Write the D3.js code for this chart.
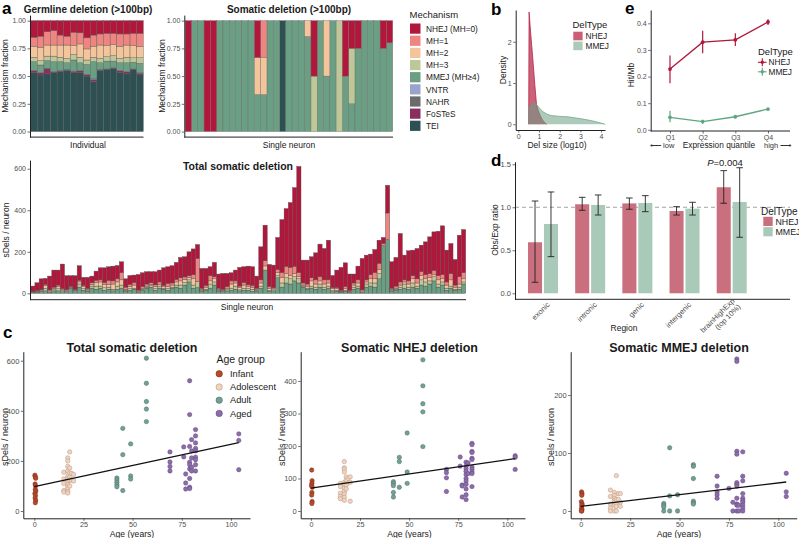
<!DOCTYPE html>
<html><head><meta charset="utf-8">
<script src="https://cdn.jsdelivr.net/npm/d3@7/dist/d3.min.js"></script>
<style>body{margin:0;background:#fff} svg{display:block}</style>
</head><body>
<svg id="chart" width="799" height="538"></svg>
<script>
// ---------------- DATA ----------------
const mechLabels = ["NHEJ (MH=0)","MH=1","MH=2","MH=3","MMEJ (MH\u22654)","VNTR","NAHR","FoSTeS","TEI"];
const mechKeys   = ["NHEJ","MH1","MH2","MH3","MMEJ","VNTR","NAHR","FoSTeS","TEI"];
const mechColors = ["#B2173B","#EF8580","#F4C49B","#BEC797","#6A9F83","#99A3CC","#6B6B6B","#8A2D5F","#2D5052"];

// Germline fractions, 17 individuals
const gNHEJ   = [.15,.14,.10,.09,.13,.14,.105,.11,.155,.13,.12,.115,.115,.12,.12,.115,.115];
const gMH1    = [.08,.10,.12,.13,.09,.08,.12,.10,.10,.10,.10,.11,.10,.11,.10,.11,.12];
const gMH2    = [.10,.12,.10,.10,.11,.12,.08,.12,.10,.10,.12,.10,.10,.11,.11,.11,.10];
const gMH3    = [.04,.04,.04,.05,.04,.04,.05,.05,.04,.04,.04,.04,.05,.04,.05,.04,.05];
const gMMEJ   = [.08,.07,.07,.09,.08,.06,.10,.07,.09,.15,.06,.07,.06,.07,.08,.06,.08];
const gVNTR   = [0,0,0,0,0,0,0,0,0,.01,0,0,0,0,0,0,.01];
const gNAHR   = [0,0,0,0,0,0,.005,0,0,0,0,0,0,0,0,0,.005];
const gFoSTeS = [.02,.02,.05,.01,.01,.01,.01,.02,.015,.02,.01,.005,.005,.02,.02,.005,.01];
const gTEI    = [.53,.51,.52,.53,.54,.55,.53,.53,.50,.45,.55,.56,.57,.53,.52,.56,.51];

// Somatic (>100bp) fractions, 33 single neurons
const sNHEJ = [1,0,0,1,1,0,0,0,0,0,0,.333,0,0,0,0,0,0,0,0,.5,0,0,0,0,.5,.25,.25,0,0,0,.25,.2];
const sMH1  = [0,0,0,0,0,0,0,0,0,0,0,0,.333,0,0,0,0,0,0,0,0,0,0,0,0,0,0,0,0,0,0,0,0];
const sMH2  = [0,0,0,0,0,0,0,0,0,0,0,.333,.333,0,0,0,0,0,0,.143,0,0,.5,0,0,0,0,0,0,0,0,0,0];
const sMH3  = [0,0,0,0,0,0,0,0,0,0,0,0,0,0,0,0,0,0,0,0,.5,0,0,0,1,0,.5,0,0,0,0,0,0];
const sMMEJ = [0,1,1,0,0,1,1,1,1,1,1,.334,.334,1,1,0,1,1,1,.857,0,1,.5,1,0,.5,.25,.75,1,1,1,.75,.8];
const sTEI  = [0,0,0,0,0,0,0,0,0,0,0,0,0,0,0,1,0,0,0,0,0,0,0,0,0,0,0,0,0,0,0,0,0];

// Total somatic deletions per neuron (counts), 103 neurons
const nMMEJ = [5,5,10,12,5,12,12,8,8,25,8,30,15,10,25,20,25,15,20,12,20,25,10,15,20,
  5,15,25,30,15,25,20,15,25,30,25,40,55,25,28,10,15,25,40,10,8,12,15,20,12,15,
  15,10,10,25,112,10,12,75,30,50,45,60,50,30,20,25,20,30,20,25,8,10,5,10,5,20,25,5,30,35,30,70,230,259,10,15,20,25,20,30,25,40,35,45,60,30,40,15,25,15,20,45];
const nMH3 = [0,2,3,12,3,6,10,5,2,2,4,15,8,4,10,15,10,12,10,8,15,15,5,8,5,
  3,5,5,8,8,10,5,8,5,10,15,12,10,15,30,5,5,20,15,5,3,5,10,15,5,10,
  8,10,5,10,0,5,5,10,20,25,25,20,20,5,5,10,10,15,10,10,5,5,2,5,2,10,10,2,15,15,20,25,0,0,5,5,10,20,10,20,10,25,20,15,20,15,15,10,10,5,10,10];
const nMH2 = [2,3,3,14,5,6,10,5,4,3,4,10,10,5,8,18,20,15,12,25,20,25,5,10,15,
  3,5,5,5,10,8,8,10,10,15,20,15,10,30,0,5,10,15,15,5,4,8,20,15,10,15,
  10,10,5,15,20,10,5,15,25,20,15,15,10,5,10,25,15,15,15,15,10,8,3,8,2,10,15,5,10,20,20,20,0,0,5,5,10,10,15,20,15,20,15,15,10,20,15,15,30,10,15,15];
const nMH1 = [3,4,4,6,4,6,8,5,4,4,4,8,5,5,8,10,10,10,20,15,15,35,10,10,12,
  5,8,10,8,8,12,5,15,10,12,15,12,10,20,110,5,8,25,10,5,5,8,15,10,8,12,
  8,8,5,15,25,8,5,15,25,35,40,35,20,10,10,15,20,20,20,15,5,5,5,10,5,10,15,5,10,20,30,30,10,128,5,10,15,10,15,15,20,20,20,20,20,20,20,15,30,10,35,30];
const nNHEJ = [25,37,50,28,66,82,72,118,67,51,65,70,39,53,32,44,58,71,66,71,64,52,40,43,36,
  75,66,59,53,63,57,85,80,83,82,98,97,115,124,67,95,82,43,69,68,76,63,39,52,90,76,
  90,90,58,159,171,106,109,154,255,278,312,379,511,110,115,101,130,157,151,191,58,84,110,114,79,43,66,151,119,99,111,111,29,133,127,138,233,119,145,123,146,127,158,177,186,214,235,153,145,123,200,207];

// Panel b: density of deletion size (log10)
const bNHEJ = [[0.5,0],[0.52,2.72],[0.6,2.2],[0.7,1.6],[0.8,0.95],[0.88,0.48],[0.95,0.35],[1.05,0.22],[1.15,0.12],[1.25,0.05],[1.37,0]];
const bMMEJ = [[0.5,0],[0.52,0.42],[0.6,0.46],[0.7,0.5],[0.8,0.51],[0.9,0.47],[1.0,0.4],[1.2,0.3],[1.4,0.24],[1.6,0.21],[2.0,0.19],[2.4,0.18],[2.8,0.15],[3.2,0.12],[3.6,0.08],[3.9,0.04],[4.2,0]];

// Panel e: hits per Mb by expression quantile
const eQuant = ["Q1","Q2","Q3","Q4"];
const eNHEJ = [0.228,0.329,0.338,0.405], eNHEJlo = [0.175,0.288,0.315,0.394], eNHEJhi = [0.279,0.372,0.363,0.415];
const eMMEJ = [0.047,0.031,0.049,0.078], eMMEJlo = [0.028,0.023,0.042,0.072], eMMEJhi = [0.072,0.038,0.055,0.082];

// Panel d: Obs/Exp ratio by region
const dRegions = ["exonic","intronic","genic","intergenic","brainHighExp\n(top 10%)"];
const dNHEJ = [0.593,1.035,1.045,0.957,1.233], dNHEJlo = [0.128,0.965,0.977,0.91,1.047], dNHEJhi = [1.073,1.116,1.108,1.007,1.426];
const dMMEJ = [0.806,1.027,1.05,0.984,1.062], dMMEJlo = [0.426,0.91,0.949,0.91,0.651], dMMEJhi = [1.178,1.143,1.135,1.058,1.46];

// Panel c: [age, sDels/neuron]
const totInfant = [[0.3,143],[0.5,136],[0.7,131],[0.4,108],[0.6,100],[0.5,86],[0.8,80],[0.3,70],[0.6,62],[0.4,52],[0.7,42],[0.5,33]];
const totAdolescent = [[15,155],[15,128],[15,110],[15,82],[15,76],[17,212],[17,200],[17,178],[17,160],[17,140],[17,128],[17,118],[17,105],[17,96],[17,88],[17,78],[17,72],[18,236],[18,172],[18,152],[18,135],[18,124],[18,100],[19,150],[19,122],[20,146],[20,120]];
const totAdult = [[42,132],[42,124],[42,115],[42,105],[42,97],[45,330],[45,225],[45,82],[49,268],[49,140],[49,128],[57,610],[57,510],[57,437],[57,407],[57,357]];
const totAged = [[69,236],[69,196],[69,178],[69,160],[76,256],[76,216],[77,148],[77,112],[77,88],[79,520],[79,385],[79,258],[79,195],[79,185],[79,168],[79,130],[79,95],[79,90],[80,285],[80,240],[80,212],[80,175],[80,160],[82,325],[82,300],[82,272],[82,250],[82,240],[82,215],[82,205],[82,185],[82,160],[104,308],[104,282],[104,165]];
const nhInfant = [[0.4,126],[0.6,93],[0.5,85],[0.3,78],[0.7,73],[0.5,57],[0.4,49],[0.6,29],[0.5,23]];
const nhAdolescent = [[15,85],[15,75],[15,55],[15,45],[15,38],[17,152],[17,133],[17,128],[17,120],[17,88],[17,82],[17,70],[17,60],[17,52],[17,42],[17,33],[18,105],[18,95],[18,80],[18,68],[19,100],[20,105],[20,88],[20,30]];
const nhAdult = [[42,90],[42,85],[42,78],[42,57],[42,43],[45,165],[45,152],[45,73],[49,240],[49,120],[49,85],[57,465],[57,385],[57,330],[57,305],[57,198]];
const nhAged = [[69,128],[69,118],[69,102],[69,60],[76,166],[76,138],[77,80],[77,77],[77,43],[79,150],[79,138],[79,130],[79,122],[79,112],[79,100],[79,92],[79,82],[79,68],[79,50],[79,35],[80,148],[80,115],[82,208],[82,204],[82,183],[82,180],[82,162],[82,158],[82,135],[82,128],[82,120],[82,115],[82,75],[104,170],[104,165],[104,128]];
const mmInfant = [[0.4,33],[0.6,30],[0.5,27],[0.3,16],[0.7,12],[0.5,10],[0.4,5],[0.6,3],[0.5,0],[0.3,0]];
const mmAdolescent = [[15,36],[15,25],[15,12],[15,5],[15,0],[17,32],[17,27],[17,22],[17,18],[17,15],[17,10],[17,0],[18,61],[18,20],[18,12],[18,8],[18,0],[19,30],[19,20],[20,30],[20,15],[20,8]];
const mmAdult = [[42,13],[42,10],[42,7],[42,0],[45,109],[45,26],[45,0],[49,28],[49,0],[57,80],[57,77],[57,56],[57,17],[57,14],[57,12]];
const mmAged = [[69,60],[69,43],[69,33],[69,28],[69,22],[75,39],[77,15],[77,0],[79,262],[79,258],[79,103],[79,98],[79,49],[79,46],[79,43],[79,22],[79,12],[79,10],[79,0],[80,10],[80,0],[82,102],[82,60],[82,52],[82,30],[82,22],[82,18],[82,15],[82,10],[82,5],[82,0],[104,65],[104,33],[104,25]];
const totFit = [[0,97],[104,273]];
const nhFit = [[0,70],[104,161]];
const mmFit = [[0,8],[104,50]];
const ageGroups = ["Infant","Adolescent","Adult","Aged"];
const ageFill = ["#B84A2B","#F0D4BF","#72A097","#8D6CAA"];
const ageStroke = ["#7E2E17","#B89782","#4E7069","#624A80"];

// ---------------- DRAWING ----------------
const FONT = "'Liberation Sans', Arial, Helvetica, sans-serif";
const svg = d3.select('#chart');
svg.append('rect').attr('width',799).attr('height',538).attr('fill','#fff');
const colorOf = {}; mechKeys.forEach((k,i)=>colorOf[k]=mechColors[i]);

function txt(x,y,s,o={}){
  const t = svg.append('text').attr('x',x).attr('y',y).text(s)
    .attr('font-family',FONT).attr('font-size',o.size||8).attr('fill',o.fill||'#1a1a1a')
    .attr('text-anchor',o.anchor||'start').attr('font-weight',o.weight||'normal');
  if(o.rotate!=null) t.attr('transform',`rotate(${o.rotate},${x},${y})`);
  if(o.italic) t.attr('font-style','italic');
  return t;
}
function line(x1,y1,x2,y2,c='#222',w=1){
  return svg.append('line').attr('x1',x1).attr('y1',y1).attr('x2',x2).attr('y2',y2).attr('stroke',c).attr('stroke-width',w);
}
function styleAxis(g,size){
  g.attr('font-family',FONT).attr('font-size',size);
  g.select('.domain').attr('stroke','#222').attr('stroke-width',1);
  g.selectAll('.tick line').attr('stroke','#333').attr('stroke-width',0.7);
  g.selectAll('.tick text').attr('fill','#4d4d4d').style('fill','#4d4d4d');
  return g;
}
function leftAxis(scale,x,ticks,fmt,size){
  const g = svg.append('g').attr('transform',`translate(${x},0)`)
    .call(d3.axisLeft(scale).tickValues(ticks).tickFormat(fmt).tickSizeInner(2.5).tickSizeOuter(0).tickPadding(1.5));
  return styleAxis(g,size);
}
function bottomAxis(scale,y,ticks,fmt,size,pad=1.5){
  const g = svg.append('g').attr('transform',`translate(0,${y})`)
    .call(d3.axisBottom(scale).tickValues(ticks).tickFormat(fmt).tickSizeInner(2.5).tickSizeOuter(0).tickPadding(pad));
  return styleAxis(g,size);
}

// ---- Panel a: germline fractions ----
const stackKeys = ["TEI","FoSTeS","NAHR","VNTR","MMEJ","MH3","MH2","MH1","NHEJ"];
const germRows = gTEI.map((_,i)=>({TEI:gTEI[i],FoSTeS:gFoSTeS[i],NAHR:gNAHR[i],VNTR:gVNTR[i],MMEJ:gMMEJ[i],MH3:gMH3[i],MH2:gMH2[i],MH1:gMH1[i],NHEJ:gNHEJ[i]}));
const xG = d3.scaleBand().domain(d3.range(germRows.length)).range([30.6,143.3]).padding(0);
const yFrac = d3.scaleLinear().domain([-0.05,1.05]).range([137.1,15.1]);
function drawStack(rows,keys,xs,ys,stroke){
  const st = d3.stack().keys(keys)(rows);
  st.forEach(layer=>{
    svg.append('g').selectAll('rect').data(layer.map((d,i)=>({d,i})).filter(o=>o.d[1]-o.d[0]>0)).join('rect')
      .attr('x',o=>xs(o.i)).attr('width',xs.bandwidth())
      .attr('y',o=>ys(o.d[1])).attr('height',o=>ys(o.d[0])-ys(o.d[1]))
      .attr('fill',colorOf[layer.key]).attr('stroke',stroke).attr('stroke-width',0.4);
  });
}
drawStack(germRows,stackKeys,xG,yFrac,'#5a5a5a');
leftAxis(yFrac,30,[0,0.25,0.5,0.75,1],d3.format('.2f'),7);
line(30,137.1,143.5,137.1);
txt(88,12.5,'Germline deletion (>100bp)',{size:10,weight:'bold',anchor:'middle'});
txt(8,76,'Mechanism fraction',{size:8.5,anchor:'middle',rotate:-90});
txt(88,148,'Individual',{size:8.5,anchor:'middle'});
txt(2,14,'a',{size:17,weight:'bold',fill:'#000'});

// ---- Panel a: somatic fractions ----
const somRows = sNHEJ.map((_,i)=>({TEI:sTEI[i],FoSTeS:0,NAHR:0,VNTR:0,MMEJ:sMMEJ[i],MH3:sMH3[i],MH2:sMH2[i],MH1:sMH1[i],NHEJ:sNHEJ[i]}));
const xS = d3.scaleBand().domain(d3.range(somRows.length)).range([185.2,392.7]).padding(0);
drawStack(somRows,stackKeys,xS,yFrac,'#6a6a6a');
leftAxis(yFrac,184.3,[0,0.25,0.5,0.75,1],d3.format('.2f'),7);
line(184.3,137.1,393,137.1);
txt(289,12.5,'Somatic deletion (>100bp)',{size:10,weight:'bold',anchor:'middle'});
txt(165,76,'Mechanism fraction',{size:8.5,anchor:'middle',rotate:-90});
txt(289,148,'Single neuron',{size:8.5,anchor:'middle'});

// legend
txt(409.5,17.5,'Mechanism',{size:9.5});
mechLabels.forEach((lab,i)=>{
  svg.append('rect').attr('x',410).attr('y',23.5+i*12.15).attr('width',10.5).attr('height',10.2).attr('fill',mechColors[i]);
  txt(426,31.8+i*12.15,lab,{size:8.3});
});

// ---- Panel a: total somatic deletion stacked counts ----
const nRows = nNHEJ.map((_,i)=>({MMEJ:nMMEJ[i],MH3:nMH3[i],MH2:nMH2[i],MH1:nMH1[i],NHEJ:nNHEJ[i]}));
const xN = d3.scaleBand().domain(d3.range(nRows.length)).range([30.7,465.7]).padding(0);
const yN = d3.scaleLinear().domain([-30.55,641.5]).range([299.7,160.1]);
drawStack(nRows,["MMEJ","MH3","MH2","MH1","NHEJ"],xN,yN,'#4a4a4a');
leftAxis(yN,30,[0,200,400,600],d3.format('d'),7);
line(30,299.7,466,299.7);
txt(238,170,'Total somatic deletion',{size:10.5,weight:'bold',anchor:'middle'});
txt(9,230,'sDels / neuron',{size:8.5,anchor:'middle',rotate:-90});
txt(247,310,'Single neuron',{size:8.5,anchor:'middle'});

// ---- Panel b: density ----
const xB = d3.scaleLinear().domain([-0.126,4.19]).range([515.7,605]);
const yB = d3.scaleLinear().domain([-0.14,2.77]).range([130,10]);
const areaB = d3.area().x(d=>xB(d[0])).y0(yB(0)).y1(d=>yB(d[1]));
const lineB = d3.line().x(d=>xB(d[0])).y(d=>yB(d[1]));
svg.append('path').attr('d',areaB(bNHEJ)).attr('fill','#B2173B').attr('fill-opacity',0.68);
svg.append('path').attr('d',lineB(bNHEJ)).attr('fill','none').attr('stroke','#B2173B').attr('stroke-width',0.7);
svg.append('path').attr('d',areaB(bMMEJ)).attr('fill','#6A9F83').attr('fill-opacity',0.55);
svg.append('path').attr('d',lineB(bMMEJ)).attr('fill','none').attr('stroke','#6A9F83').attr('stroke-width',0.7);
leftAxis(yB,515.7,[0,1,2],d3.format('d'),7);
bottomAxis(xB,130,[0,1,2,3,4],d3.format('d'),7);
txt(506,70,'Density',{size:8.5,anchor:'middle',rotate:-90});
txt(557,148,'Del size (log10)',{size:8.5,anchor:'middle'});
txt(491,15,'b',{size:17,weight:'bold',fill:'#000'});
txt(572.5,28,'DelType',{size:9.5});
svg.append('rect').attr('x',573.3).attr('y',31.7).attr('width',9.3).attr('height',8.6).attr('fill','#CB5D75');
svg.append('rect').attr('x',573.3).attr('y',41.6).attr('width',9.3).attr('height',8.6).attr('fill','#ABCBB9');
txt(585.5,38.8,'NHEJ',{size:8.3});
txt(585.5,48.7,'MMEJ',{size:8.3});

// ---- Panel e: Hit/Mb ----
const xE = d3.scalePoint().domain(eQuant).range([670,768]);
const yE = d3.scaleLinear().domain([-0.0045,0.45]).range([131,10]);
function eSeries(vals,lo,hi,col){
  svg.append('path').attr('d',d3.line().x((d,i)=>xE(eQuant[i])).y(d=>yE(d))(vals))
    .attr('fill','none').attr('stroke',col).attr('stroke-width',1.3);
  vals.forEach((v,i)=>{
    line(xE(eQuant[i]),yE(lo[i]),xE(eQuant[i]),yE(hi[i]),col,1.2);
    svg.append('circle').attr('cx',xE(eQuant[i])).attr('cy',yE(v)).attr('r',1.9).attr('fill',col);
  });
}
eSeries(eNHEJ,eNHEJlo,eNHEJhi,'#B2173B');
eSeries(eMMEJ,eMMEJlo,eMMEJhi,'#5FA583');
leftAxis(yE,650.7,[0,0.1,0.2,0.3,0.4],d3.format('.1f'),7);
const gEx = bottomAxis(xE,131,eQuant,d=>d,7);
gEx.select('.domain').remove();
line(650.7,131,790,131);
txt(634,75,'Hit/Mb',{size:8.5,anchor:'middle',rotate:-90});
txt(650,147.5,'\u27F5 low',{size:7.5,fill:'#333'});
txt(719,147.5,'Expression quantile',{size:8.3,anchor:'middle'});
txt(764,147.5,'high \u27F6',{size:7.5,fill:'#333'});
txt(625,14,'e',{size:17,weight:'bold',fill:'#000'});
txt(758,55,'DelType',{size:9.5});
[['NHEJ','#B2173B'],['MMEJ','#5FA583']].forEach(([lab,col],i)=>{
  const cy = 62.3+i*9.5;
  line(758,cy,766.6,cy,col,1.1);
  line(762.3,cy-4,762.3,cy+4,col,1.1);
  svg.append('circle').attr('cx',762.3).attr('cy',cy).attr('r',1.7).attr('fill',col);
  txt(768.5,cy+2.8,lab,{size:8.3});
});

// ---- Panel d: Obs/Exp ----
const xD = d3.scalePoint().domain(dRegions).range([543,731.7]);
const xSub = d3.scaleBand().domain(["NHEJ","MMEJ"]).range([-15,15]).paddingInner(0.12);
const yD = d3.scaleLinear().domain([-0.07,1.53]).range([299.3,161.7]);
line(515,yD(1),790,yD(1),'#9a9a9a',0.9).attr('stroke-dasharray','4,3');
function dBars(key,vals,lo,hi,col){
  vals.forEach((v,i)=>{
    const x0 = xD(dRegions[i])+xSub(key);
    svg.append('rect').attr('x',x0).attr('width',xSub.bandwidth()).attr('y',yD(v)).attr('height',yD(0)-yD(v)).attr('fill',col);
    const cx = x0+xSub.bandwidth()/2;
    line(cx,yD(lo[i]),cx,yD(hi[i]),'#222',0.9);
    line(cx-3.3,yD(lo[i]),cx+3.3,yD(lo[i]),'#222',0.9);
    line(cx-3.3,yD(hi[i]),cx+3.3,yD(hi[i]),'#222',0.9);
  });
}
dBars("NHEJ",dNHEJ,dNHEJlo,dNHEJhi,'#C96F7E');
dBars("MMEJ",dMMEJ,dMMEJlo,dMMEJhi,'#A9C9B9');
leftAxis(yD,515,[0,0.5,1,1.5],d3.format('.1f'),7.5);
line(515,299.3,790,299.3);
dRegions.forEach(r=>{
  const x = xD(r)+4, y = 302;
  const t = svg.append('text').attr('transform',`rotate(-45,${x},${y})`)
    .attr('font-family',FONT).attr('font-size',7.5).attr('fill','#4d4d4d').attr('text-anchor','end');
  const parts = r.split('\n');
  parts.forEach((p,j)=>t.append('tspan').attr('x',x).attr('y',y).attr('dy',(j===0?(parts.length>1?-0.1:0.6):1.0)+'em').text(p));
});
txt(498,230,'Obs/Exp ratio',{size:8.5,anchor:'middle',rotate:-90});
txt(624,331,'Region',{size:8.5,anchor:'middle'});
txt(491,166,'d',{size:17,weight:'bold',fill:'#000'});
const pT = txt(725,165.5,'',{size:9.5,anchor:'middle'});
pT.append('tspan').attr('font-style','italic').text('P');
pT.append('tspan').text('=0.004');
txt(761,215,'DelType',{size:10});
svg.append('rect').attr('x',763.3).attr('y',216.8).attr('width',9.4).attr('height',9.2).attr('fill','#C96F7E');
svg.append('rect').attr('x',763.3).attr('y',227.1).attr('width',9.4).attr('height',9.2).attr('fill','#A9C9B9');
txt(775.5,224.5,'NHEJ',{size:8.8});
txt(775.5,234.8,'MMEJ',{size:8.8});

// ---- Panel c: scatter panels ----
function scatterPanel(cfg){
  const xs = d3.scaleLinear().domain(cfg.xd).range(cfg.xr);
  const ys = d3.scaleLinear().domain(cfg.yd).range([518.3,351.7]);
  cfg.groups.forEach((pts,gi)=>{
    svg.append('g').selectAll('circle').data(pts).join('circle')
      .attr('cx',d=>xs(d[0])).attr('cy',d=>ys(d[1])).attr('r',2.2)
      .attr('fill',ageFill[gi]).attr('stroke',ageStroke[gi]).attr('stroke-width',0.5);
  });
  svg.append('path').attr('d',d3.line().x(d=>xs(d[0])).y(d=>ys(d[1]))(cfg.fit))
    .attr('stroke','#111').attr('stroke-width',1.3).attr('fill','none');
  leftAxis(ys,cfg.xr[0],cfg.yt,d3.format('d'),7.5);
  bottomAxis(xs,518.3,[0,25,50,75,100],d3.format('d'),7.2,1);
  txt(cfg.cx,352,cfg.title,{size:12.5,weight:'bold',anchor:'middle'});
  txt(cfg.cx,537,'Age (years)',{size:8.6,anchor:'middle'});
  txt(cfg.ylx,437,'sDels / neuron',{size:9,anchor:'middle',rotate:-90});
}
scatterPanel({xd:[-5.6,109.7],xr:[23.3,250],yd:[-29,636],yt:[0,200,400,600],groups:[totInfant,totAdolescent,totAdult,totAged],fit:totFit,title:'Total somatic deletion',cx:132,ylx:8});
scatterPanel({xd:[-5.2,109],xr:[300.7,525],yd:[-22.5,490],yt:[0,100,200,300,400],groups:[nhInfant,nhAdolescent,nhAdult,nhAged],fit:nhFit,title:'Somatic NHEJ deletion',cx:409.5,ylx:285});
scatterPanel({xd:[-5.1,109.3],xr:[570.7,796.7],yd:[-12.6,274.7],yt:[0,100,200],groups:[mmInfant,mmAdolescent,mmAdult,mmAged],fit:mmFit,title:'Somatic MMEJ deletion',cx:679,ylx:554});
txt(3,338,'c',{size:17,weight:'bold',fill:'#000'});
txt(216.5,363.3,'Age group',{size:10.5});
ageGroups.forEach((g,i)=>{
  svg.append('circle').attr('cx',219.2).attr('cy',373.8+i*13.2).attr('r',3.2).attr('fill',ageFill[i]).attr('stroke',ageStroke[i]).attr('stroke-width',0.6);
  txt(230,377+i*13.2,g,{size:9.3});
});
</script>
</body></html>
